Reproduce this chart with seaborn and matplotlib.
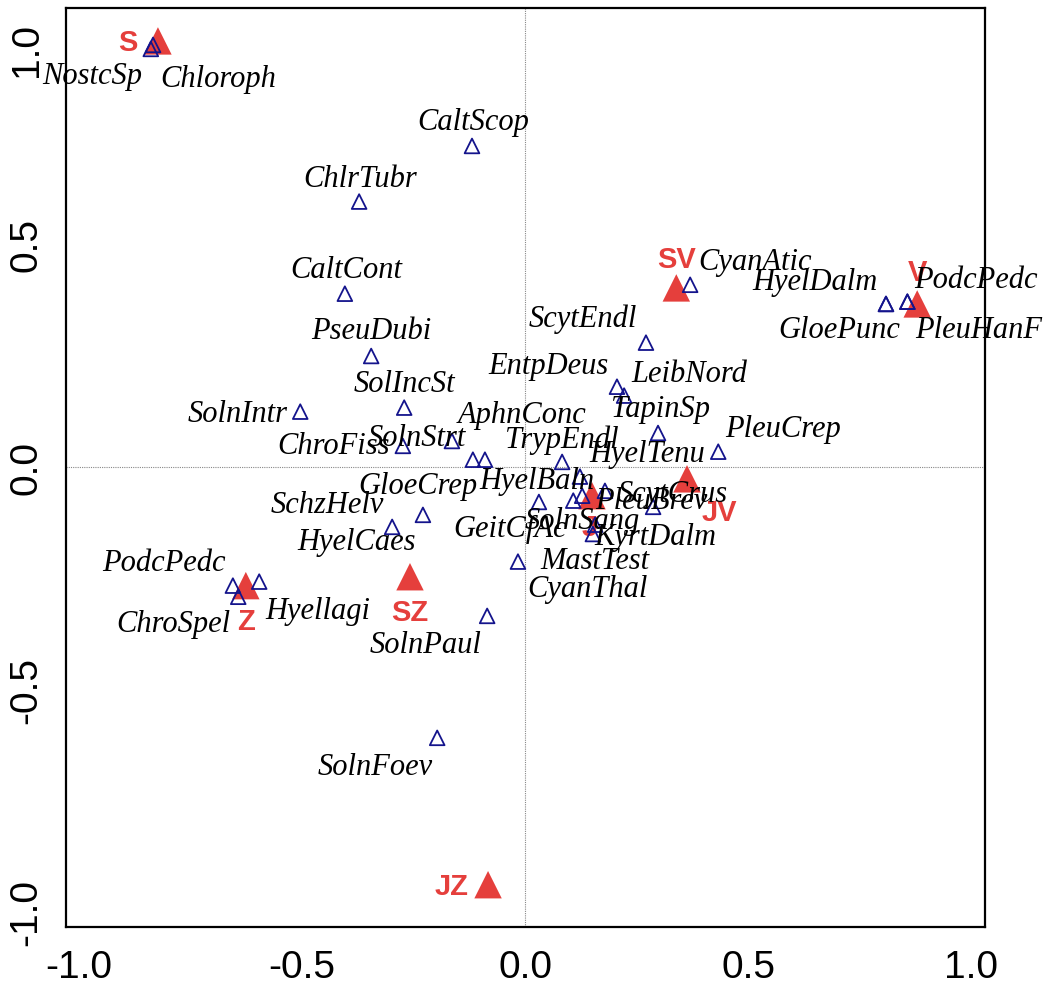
import pandas as pd
import seaborn as sns
import matplotlib.pyplot as plt

# species scores (axis 1, axis 2)
species = ["NostcSp", "Chloroph", "CaltScop", "ChlrTubr", "CaltCont", "PseuDubi",
           "SolIncSt", "SolnIntr", "ChroFiss", "SolnStrt", "GloeCrep", "AphnConc",
           "TrypEndl", "HyelBaln", "GeitCfAc", "CyanThal", "HyelTenu", "ScytCrus",
           "PleuBrev", "SolnSang", "KyrtDalm", "MastTest", "SolnPaul", "SchzHelv",
           "HyelCaes", "PodcPedc", "ChroSpel", "Hyellagi", "SolnFoev", "ScytEndl",
           "EntpDeus", "LeibNord", "TapinSp", "PleuCrep", "CyanAtic", "HyelDalm",
           "GloePunc", "PodcPedc", "PleuHanF"]
sp_x = [-0.839, -0.834, -0.119, -0.372, -0.404, -0.345, -0.271, -0.504, -0.274, -0.164,
        -0.117, -0.090, 0.083, 0.123, 0.031, 0.108, 0.128, 0.179, 0.287, 0.157,
        0.152, -0.016, -0.085, -0.229, -0.298, -0.655, -0.643, -0.596, -0.197, 0.271,
        0.206, 0.222, 0.298, 0.433, 0.370, 0.809, 0.809, 0.857, 0.857]
sp_y = [0.939, 0.948, 0.721, 0.596, 0.389, 0.249, 0.133, 0.124, 0.047, 0.058,
        0.016, 0.016, 0.011, -0.022, -0.079, -0.076, -0.065, -0.054, -0.090, -0.130,
        -0.151, -0.213, -0.335, -0.108, -0.135, -0.267, -0.292, -0.258, -0.609, 0.279,
        0.180, 0.160, 0.076, 0.034, 0.409, 0.366, 0.366, 0.371, 0.371]
# label offsets from each point (pixels)
sp_off = [(-59, -27), (65, -34), (1, 24), (1, 23), (1, 24), (0, 25), (0, 24), (-63, -2),
          (-69, 0), (-35, 4), (-55, -26), (37, 45), (0, 23), (-43, -4), (-29, -27),
          (14, -88), (65, 42), (68, -3), (-2, 6), (-13, 4), (62, -2), (77, 1),
          (-62, -29), (-96, 10), (-36, -15), (-69, 23), (-65, -27), (59, -29),
          (-62, -29), (-63, 24), (-68, 21), (65, 22), (2, 24), (65, 23), (65, 23),
          (-71, 22), (-47, -26), (69, 22), (71, -28)]

# site centroids
sites = ["S", "SV", "V", "JV", "J", "SZ", "Z", "JZ"]
site_x = [-0.823, 0.339, 0.879, 0.363, 0.150, -0.258, -0.626, -0.083]
site_y = [0.957, 0.402, 0.366, -0.027, -0.065, -0.247, -0.267, -0.939]
site_off = [(-30, -1), (0, 29), (0, 32), (32, -33), (-2, -31), (0, -35), (0, -35), (-36, -1)]

RED = "#e53f3c"
BLUE = "#14148c"

sp_df = pd.DataFrame({"x": sp_x, "y": sp_y, "name": species})
site_df = pd.DataFrame({"x": site_x, "y": site_y, "name": sites})

sns.set_style("white")
plt.rcParams["font.family"] = ["Liberation Sans", "DejaVu Sans"]

fig = plt.figure(figsize=(10.5, 9.87), dpi=100)
ax = fig.add_axes([0.0629, 0.0598, 0.8752, 0.9311])

ax.axhline(0, color="#888888", lw=0.8, ls=(0, (1, 1)), zorder=0)
ax.axvline(0, color="#888888", lw=0.8, ls=(0, (1, 1)), zorder=0)

sns.scatterplot(data=site_df, x="x", y="y", marker="^", s=390, color=RED,
                edgecolor="none", ax=ax, zorder=2, legend=False)
for name, x, y, off in zip(sites, site_x, site_y, site_off):
    ax.annotate(name, (x, y), xytext=off, textcoords="offset pixels",
                ha="center", va="center", color=RED, fontsize=21,
                fontweight="bold", zorder=3)

sns.scatterplot(data=sp_df, x="x", y="y", marker="^", s=112, facecolor="none",
                edgecolor=BLUE, linewidth=1.3, ax=ax, zorder=4, legend=False)
for name, x, y, off in zip(species, sp_x, sp_y, sp_off):
    ax.annotate(name, (x, y), xytext=off, textcoords="offset pixels",
                ha="center", va="center", color="black", fontsize=22,
                family="Liberation Serif", style="italic", zorder=5)

ax.set_xlim(-1.029, 1.031)
ax.set_ylim(-1.034, 1.031)
ax.set_xticks([-1.0, -0.5, 0.0, 0.5, 1.0])
ax.set_yticks([-1.0, -0.5, 0.0, 0.5, 1.0])
ax.set_xticklabels(["-1.0", "-0.5", "0.0", "0.5", "1.0"])
ax.set_yticklabels(["-1.0", "-0.5", "0.0", "0.5", "1.0"], rotation=90, va="center")
ax.get_yticklabels()[-1].set_va("top")
ax.tick_params(axis="both", direction="inout", length=7, width=1.2,
               labelsize=28, pad=12, color="black", labelcolor="black")
ax.set_xlabel("")
ax.set_ylabel("")
for sp in ax.spines.values():
    sp.set_color("black")
    sp.set_linewidth(1.6)

fig.savefig("out.png", dpi=100)
